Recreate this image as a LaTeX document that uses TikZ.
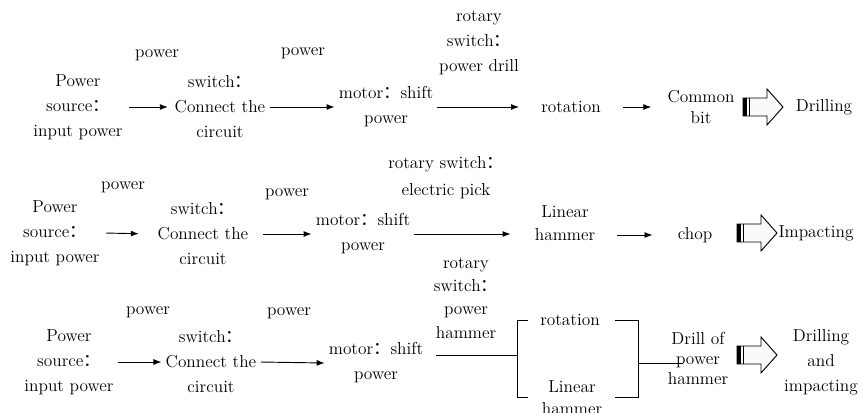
\documentclass[tikz,border=0pt]{standalone}
\usepackage{fontspec}
\newfontfamily\cjk{Noto Sans CJK SC}
\usetikzlibrary{arrows.meta}
\newcommand{\fwcolon}{{\cjk ：}}

\tikzset{
  txt/.style={align=center, inner sep=0pt, inner xsep=3pt,
    font=\fontsize{13}{18.75}\selectfont},
  arr/.style={-{Latex[length=6pt,width=4.5pt]}, line width=0.7pt},
  ln/.style={line width=0.7pt},
  % striped block arrow pointing right, origin at left end of the body
  blockarr/.pic={
    \draw[line width=0.7pt, fill=gray!4] (0,-9) -- (24,-9) -- (24,-18) -- (40,0)
      -- (24,18) -- (24,9) -- (0,9) -- cycle;
    \fill (0,-9) rectangle (4,9);
    \draw[line width=0.8pt] (6.5,-9) -- (6.5,9);
  }
}

\begin{document}
\begin{tikzpicture}[x=0.75pt, y=-0.75pt]
\useasboundingbox (0,0) rectangle (866,412);

% ---------- drilling ----------
\node[txt] (src1) at (78,107) {Power\\source\fwcolon\\input power};
\node[txt] (pw1a) at (157,55) {power};
\node[txt] (pw1b) at (303,53) {power};
\node[txt] (sw1) at (220,107) {switch\fwcolon\\Connect the\\circuit};
\node[txt] (mt1) at (386,107) {motor\fwcolon shift\\power};
\node[txt] (rs1) at (479,43) {rotary\\switch\fwcolon\\power drill};
\node[txt] (rt1) at (571,107) {rotation};
\node[txt, font=\fontsize{13}{15.75}\selectfont] (cb1) at (701,107) {Common\\bit};
\pic at (743,107) {blockarr};
\node[txt] (dr1) at (824,107) {Drilling};

\draw[arr, shorten <=2pt, shorten >=2pt] (src1.east) -- (sw1.west);
\draw[arr] (sw1.east) -- (mt1.west);
\draw[arr, shorten >=13.5pt] (mt1.east) -- (rt1.west);
\draw[arr, shorten <=13.5pt, shorten >=9pt] (rt1.east) -- (cb1.west);

% ---------- impacting ----------
\node[txt] (src2) at (55,233) {Power\\source\fwcolon\\input power};
\node[txt] (pw2a) at (123,187) {power};
\node[txt] (pw2b) at (287,194) {power};
\node[txt] (sw2) at (203,234) {switch\fwcolon\\Connect the\\circuit};
\node[txt] (mt2) at (363,234) {motor\fwcolon shift\\power};
\node[txt, font=\fontsize{13}{20.25}\selectfont] (rs2) at (446,178) {rotary switch\fwcolon\\electric pick};
\node[txt, font=\fontsize{13}{17.25}\selectfont] (ln2) at (565,223) {Linear\\hammer};
\node[txt] (ch2) at (695,235) {chop};
\pic at (737,233) {blockarr};
\node[txt] (im2) at (816,233) {Impacting};

\draw[arr, shorten <=2pt, shorten >=11pt] (src2.east) -- (sw2.west);
\draw[arr, shorten <=8pt] (sw2.east) -- (mt2.west);
\draw[arr, shorten >=15pt] (mt2.east) -- (mt2.east -| ln2.west);
\draw[arr, shorten <=13.5pt, shorten >=15.75pt] (ch2.west -| ln2.east) -- (ch2.west);

% ---------- drilling and impacting ----------
\node[txt] (src3) at (69,362) {Power\\source\fwcolon\\input power};
\node[txt] (pw3a) at (148,312) {power};
\node[txt] (pw3b) at (289,313) {power};
\node[txt] (sw3) at (211,362) {switch\fwcolon\\Connect the\\circuit};
\node[txt] (mt3) at (376,363) {motor\fwcolon shift\\power};
\node[txt, font=\fontsize{13}{17.5}\selectfont] (rs3) at (466,298) {rotary\\switch\fwcolon\\power\\hammer};
\node[txt] (rt3) at (570,320) {rotation};
\node[txt, font=\fontsize{13}{16.5}\selectfont] (ln3) at (572,398) {Linear\\hammer};
\node[txt, font=\fontsize{13}{15}\selectfont] (dp3) at (698,358) {Drill of\\power\\hammer};
\pic at (737,355) {blockarr};
\node[txt] (di3) at (821,362) {Drilling\\and\\impacting};

\draw[arr] (src3.east) -- (sw3.west);
\draw[arr] (sw3.east) -- (mt3.west);

% split into the two motions and join again
\coordinate (jl) at (517,355);
\coordinate (jr) at (638,363);
\coordinate (jo) at (683,363);
\draw[ln, shorten <=6.75pt] (mt3.east |- jl) -- (jl);
\draw[ln] (528,320) -- (517,320) -- (517,397) -- (528,397);
\draw[ln] (615,320) -- (638,320) -- (638,397) -- (615,397);
\draw[ln] (jr) -- (jo);
\end{tikzpicture}
\end{document}
